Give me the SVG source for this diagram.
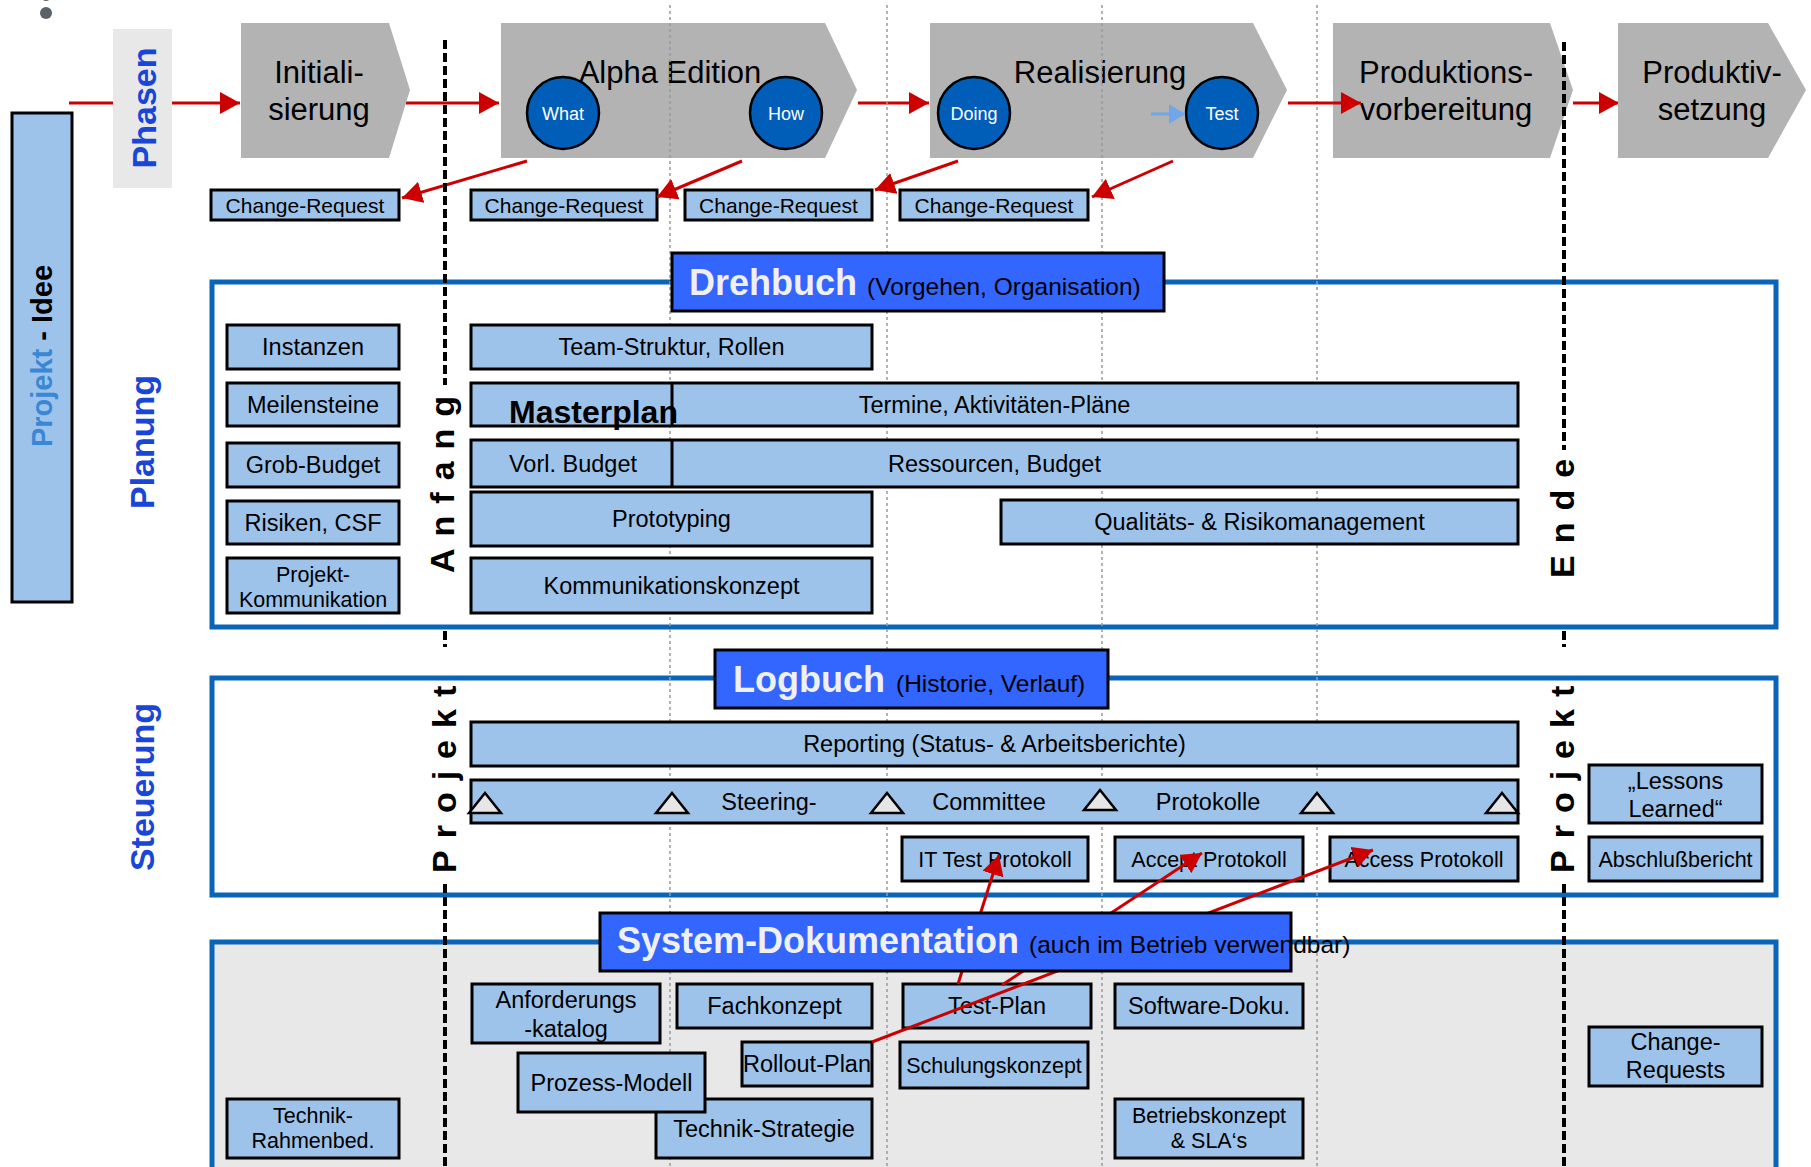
<svg xmlns="http://www.w3.org/2000/svg" width="1811" height="1167" viewBox="0 0 1811 1167">
<defs>
<style>
text{font-family:"Liberation Sans",Arial,sans-serif;fill:#000}
.box{fill:#9dc3ea;stroke:#000;stroke-width:3}
.t{font-size:23.5px;text-anchor:middle}
.s21{font-size:21.5px}
.phase{fill:#b3b3b3}
.pt{font-size:31px;text-anchor:middle}
.circ{fill:#005eb8;stroke:#000;stroke-width:2.5}
.ct{fill:#fff;font-size:18px;text-anchor:middle}
.frame{stroke:#0a64b8;stroke-width:5}
.hdr{fill:#3366ff;stroke:#000;stroke-width:3}
.ht{font-weight:bold;font-size:36px;fill:#f0f0f0}
.hs{font-size:24.5px;fill:#000;font-weight:normal}
.lbl{font-weight:bold;font-size:34px;fill:#1846d6;text-anchor:middle}
.red{stroke:#cc0000;stroke-width:3;fill:none}
.dot{stroke:#9a9a9a;stroke-width:1.5;stroke-dasharray:3 3}
.dash{stroke:#000;stroke-width:4;stroke-dasharray:9 4}
.vt{font-weight:bold;font-size:34px;letter-spacing:12px}
.tri{fill:#e6e6e6;stroke:#000;stroke-width:2.5}
</style>
<marker id="ah" viewBox="0 0 20 22" refX="20" refY="11" markerWidth="20" markerHeight="22" markerUnits="userSpaceOnUse" orient="auto">
<path d="M0,0 L20,11 L0,22 z" fill="#cc0000"/>
</marker>
<marker id="ahb" viewBox="0 0 16 20" refX="16" refY="10" markerWidth="16" markerHeight="20" markerUnits="userSpaceOnUse" orient="auto">
<path d="M0,0 L16,10 L0,20 z" fill="#6fa8e8"/>
</marker>
</defs>
<rect width="1811" height="1167" fill="#fff"/>
<circle cx="46" cy="-3" r="4" fill="#5a6168"/>
<ellipse cx="46" cy="13" rx="6" ry="6" fill="#5a6168"/>

<g id="frame-planung"><rect x="212" y="282" width="1564" height="345" fill="#fff" class="frame"/></g>
<g id="frame-steuerung"><rect x="212" y="678" width="1564" height="217" fill="#fff" class="frame"/></g>
<g id="frame-systemdoku"><rect x="212" y="942" width="1564" height="250" fill="#e8e8e8" class="frame"/></g>

<g id="projekt-idee">
<rect x="12" y="113" width="60" height="489" fill="#9dc3ea" stroke="#000" stroke-width="3"/>
<text transform="translate(52,356) rotate(-90)" font-weight="bold" font-size="29" text-anchor="middle"><tspan fill="#3a87d6">Projekt</tspan> - Idee</text>
</g>

<g id="connectors-phases">
<line x1="69" y1="103" x2="114" y2="103" class="red"/>
<line x1="172" y1="103" x2="240" y2="103" class="red" marker-end="url(#ah)"/>
<line x1="406" y1="103" x2="499" y2="103" class="red" marker-end="url(#ah)"/>
<line x1="858" y1="103" x2="929" y2="103" class="red" marker-end="url(#ah)"/>
<line x1="1573" y1="103" x2="1619" y2="103" class="red" marker-end="url(#ah)"/>
</g>

<g id="phasen-label">
<rect x="113" y="29" width="59" height="159" fill="#e8e8e8"/>
<text class="lbl" transform="translate(156,108) rotate(-90)">Phasen</text>
</g>

<g id="phase-init">
<polygon class="phase" points="241,23 389,23 410,90 389,158 241,158"/>
<text class="pt" x="319" y="83">Initiali-</text>
<text class="pt" x="319" y="120">sierung</text>
</g>
<g id="phase-alpha">
<polygon class="phase" points="501,23 825,23 857,90 825,158 501,158"/>
<text class="pt" x="670" y="83">Alpha Edition</text>
</g>
<g id="phase-real">
<polygon class="phase" points="930,23 1253,23 1287,90 1253,158 930,158"/>
<text class="pt" x="1100" y="83">Realisierung</text>
</g>
<g id="phase-prod">
<polygon class="phase" points="1333,23 1550,23 1573,90 1550,158 1333,158"/>
<text class="pt" x="1446" y="83">Produktions-</text>
<text class="pt" x="1446" y="120">vorbereitung</text>
</g>
<g id="phase-produktiv">
<polygon class="phase" points="1618,23 1768,23 1806,90 1768,158 1618,158"/>
<text class="pt" x="1712" y="83">Produktiv-</text>
<text class="pt" x="1712" y="120">setzung</text>
</g>

<g id="grid">
<line x1="670" y1="5" x2="670" y2="1167" class="dot"/>
<line x1="887" y1="5" x2="887" y2="1167" class="dot"/>
<line x1="1102" y1="5" x2="1102" y2="1167" class="dot"/>
<line x1="1317" y1="5" x2="1317" y2="1167" class="dot"/>
</g>

<g id="circle-what"><circle class="circ" cx="563" cy="113" r="36"/><text class="ct" x="563" y="120">What</text></g>
<g id="circle-how"><circle class="circ" cx="786" cy="113" r="36"/><text class="ct" x="786" y="120">How</text></g>
<g id="circle-doing"><circle class="circ" cx="974" cy="113" r="36"/><text class="ct" x="974" y="120">Doing</text></g>
<g id="circle-test"><circle class="circ" cx="1222" cy="113" r="36"/><text class="ct" x="1222" y="120">Test</text></g>

<g id="cr1"><rect class="box" x="211" y="190" width="188" height="30"/><text class="t" x="305" y="212.5" style="font-size:21px">Change-Request</text></g>
<g id="cr2"><rect class="box" x="471" y="190" width="186" height="30"/><text class="t" x="564" y="212.5" style="font-size:21px">Change-Request</text></g>
<g id="cr3"><rect class="box" x="685" y="190" width="187" height="30"/><text class="t" x="778.5" y="212.5" style="font-size:21px">Change-Request</text></g>
<g id="cr4"><rect class="box" x="900" y="190" width="188" height="30"/><text class="t" x="994" y="212.5" style="font-size:21px">Change-Request</text></g>

<g id="label-planung"><text class="lbl" transform="translate(154,442) rotate(-90)">Planung</text></g>
<g id="label-steuerung"><text class="lbl" transform="translate(154,787) rotate(-90)">Steuerung</text></g>

<g id="instanzen"><rect class="box" x="227" y="325" width="172" height="44"/><text class="t" x="313" y="355">Instanzen</text></g>
<g id="meilensteine"><rect class="box" x="227" y="383" width="172" height="43"/><text class="t" x="313" y="412.5">Meilensteine</text></g>
<g id="grob-budget"><rect class="box" x="227" y="443" width="172" height="44"/><text class="t" x="313" y="473">Grob-Budget</text></g>
<g id="risiken"><rect class="box" x="227" y="501" width="172" height="43"/><text class="t" x="313" y="530.5">Risiken, CSF</text></g>
<g id="projekt-kommunikation"><rect class="box" x="227" y="558" width="172" height="55"/><text class="t s21" x="313" y="582">Projekt-</text><text class="t s21" x="313" y="607">Kommunikation</text></g>

<g id="team-struktur"><rect class="box" x="471" y="325" width="401" height="44"/><text class="t" x="671.5" y="355">Team-Struktur, Rollen</text></g>
<g id="masterplan"><rect class="box" x="471" y="383" width="1047" height="43"/><text x="509" y="423" font-weight="bold" font-size="32">Masterplan</text><line x1="672" y1="383" x2="672" y2="426" stroke="#000" stroke-width="3"/><text class="t" x="994.5" y="412.5">Termine, Aktivitäten-Pläne</text></g>
<g id="budget"><rect class="box" x="471" y="440" width="1047" height="47"/><line x1="672" y1="440" x2="672" y2="487" stroke="#000" stroke-width="3"/><text class="t" x="573" y="472">Vorl. Budget</text><text class="t" x="994.5" y="472">Ressourcen, Budget</text></g>
<g id="prototyping"><rect class="box" x="471" y="492" width="401" height="54"/><text class="t" x="671.5" y="527">Prototyping</text></g>
<g id="qualitaet"><rect class="box" x="1001" y="500" width="517" height="44"/><text class="t" x="1259.5" y="530">Qualitäts- &amp; Risikomanagement</text></g>
<g id="kommunikationskonzept"><rect class="box" x="471" y="558" width="401" height="55"/><text class="t" x="671.5" y="593.5">Kommunikationskonzept</text></g>

<g id="reporting"><rect class="box" x="471" y="722" width="1047" height="44"/><text class="t" x="994.5" y="752">Reporting (Status- &amp; Arbeitsberichte)</text></g>
<g id="steering"><rect class="box" x="471" y="780" width="1047" height="43"/>
<polygon class="tri" points="469,813 485,793 501,813"/>
<polygon class="tri" points="656,813 672,793 688,813"/>
<polygon class="tri" points="871,813 887,793 903,813"/>
<polygon class="tri" points="1084,810 1100,790 1116,810"/>
<polygon class="tri" points="1301,813 1317,793 1333,813"/>
<polygon class="tri" points="1486,813 1502,793 1518,813"/>
<text class="t" x="769" y="809.5">Steering-</text><text class="t" x="989" y="809.5">Committee</text><text class="t" x="1208" y="809.5">Protokolle</text></g>
<g id="it-test-protokoll"><rect class="box" x="902" y="837" width="186" height="44"/><text class="t s21" x="995" y="866.5">IT Test Protokoll</text></g>
<g id="accept-protokoll"><rect class="box" x="1115" y="837" width="188" height="44"/><text class="t s21" x="1209" y="866.5">Accept Protokoll</text></g>
<g id="access-protokoll"><rect class="box" x="1330" y="837" width="188" height="44"/><text class="t s21" x="1424" y="866.5">Access Protokoll</text></g>
<g id="lessons-learned"><rect class="box" x="1589" y="765" width="173" height="58"/><text class="t" x="1675.5" y="789">„Lessons</text><text class="t" x="1675.5" y="817">Learned“</text></g>
<g id="abschlussbericht"><rect class="box" x="1589" y="837" width="173" height="44"/><text class="t s21" x="1675.5" y="866.5">Abschlußbericht</text></g>

<g id="technik-strategie"><rect class="box" x="656" y="1099" width="216" height="59"/><text class="t" x="764" y="1137">Technik-Strategie</text></g>
<g id="anforderungskatalog"><rect class="box" x="472" y="984" width="188" height="59"/><text class="t" x="566" y="1008">Anforderungs</text><text class="t" x="566" y="1037">-katalog</text></g>
<g id="fachkonzept"><rect class="box" x="677" y="984" width="195" height="44"/><text class="t" x="774.5" y="1014">Fachkonzept</text></g>
<g id="rollout-plan"><rect class="box" x="742" y="1042" width="130" height="44"/><text class="t" x="807" y="1072">Rollout-Plan</text></g>
<g id="prozess-modell"><rect class="box" x="518" y="1053" width="187" height="59"/><text class="t" x="611.5" y="1090.5">Prozess-Modell</text></g>
<g id="technik-rahmenbed"><rect class="box" x="227" y="1099" width="172" height="59"/><text class="t s21" x="313" y="1123">Technik-</text><text class="t s21" x="313" y="1148">Rahmenbed.</text></g>
<g id="test-plan"><rect class="box" x="903" y="984" width="188" height="44"/><text class="t" x="997" y="1014">Test-Plan</text></g>
<g id="schulungskonzept"><rect class="box" x="900" y="1042" width="188" height="46"/><text class="t s21" x="994" y="1072.5">Schulungskonzept</text></g>
<g id="software-doku"><rect class="box" x="1115" y="984" width="188" height="44"/><text class="t" x="1209" y="1014">Software-Doku.</text></g>
<g id="betriebskonzept"><rect class="box" x="1115" y="1099" width="188" height="59"/><text class="t s21" x="1209" y="1123">Betriebskonzept</text><text class="t s21" x="1209" y="1148">&amp; SLA‘s</text></g>
<g id="change-requests"><rect class="box" x="1589" y="1027" width="173" height="59"/><text class="t" x="1675.5" y="1050">Change-</text><text class="t" x="1675.5" y="1078">Requests</text></g>

<g id="connectors">
<line x1="1151" y1="114" x2="1185" y2="114" stroke="#6fa8e8" stroke-width="3" marker-end="url(#ahb)"/>
<line x1="1288" y1="103" x2="1361" y2="103" class="red" marker-end="url(#ah)"/>
<line x1="527" y1="161" x2="402" y2="198" class="red" marker-end="url(#ah)"/>
<line x1="742" y1="161" x2="657" y2="197" class="red" marker-end="url(#ah)"/>
<line x1="958" y1="161" x2="875" y2="190" class="red" marker-end="url(#ah)"/>
<line x1="1173" y1="161" x2="1092" y2="197" class="red" marker-end="url(#ah)"/>
<line x1="958" y1="984" x2="999" y2="855" class="red" marker-end="url(#ah)"/>
<line x1="1002" y1="985" x2="1202" y2="853" class="red" marker-end="url(#ah)"/>
<line x1="872" y1="1042" x2="1373" y2="850" class="red" marker-end="url(#ah)"/>
</g>

<g id="hdr-drehbuch"><rect class="hdr" x="672" y="253" width="492" height="58"/><text class="ht" x="689" y="295">Drehbuch<tspan class="hs" dx="10">(Vorgehen, Organisation)</tspan></text></g>
<g id="hdr-logbuch"><rect class="hdr" x="715" y="650" width="393" height="58"/><text class="ht" x="733" y="692">Logbuch<tspan class="hs" dx="11">(Historie, Verlauf)</tspan></text></g>
<g id="hdr-systemdoku"><rect class="hdr" x="600" y="913" width="691" height="58"/><text class="ht" x="617" y="953">System-Dokumentation<tspan class="hs" dx="10">(auch im Betrieb verwendbar)</tspan></text></g>

<g id="anfang">
<line x1="445" y1="40" x2="445" y2="385" class="dash"/>
<line x1="445" y1="631" x2="445" y2="647" class="dash"/>
<line x1="445" y1="884" x2="445" y2="1167" class="dash"/>
<text class="vt" transform="translate(454,573) rotate(-90)">Anfang</text>
<text class="vt" transform="translate(456,873) rotate(-90)">Projekt</text>
</g>
<g id="ende">
<line x1="1564" y1="42" x2="1564" y2="450" class="dash"/>
<line x1="1564" y1="631" x2="1564" y2="647" class="dash"/>
<line x1="1564" y1="884" x2="1564" y2="1167" class="dash"/>
<text class="vt" transform="translate(1574,578) rotate(-90)">Ende</text>
<text class="vt" transform="translate(1574,873) rotate(-90)">Projekt</text>
</g>
</svg>
